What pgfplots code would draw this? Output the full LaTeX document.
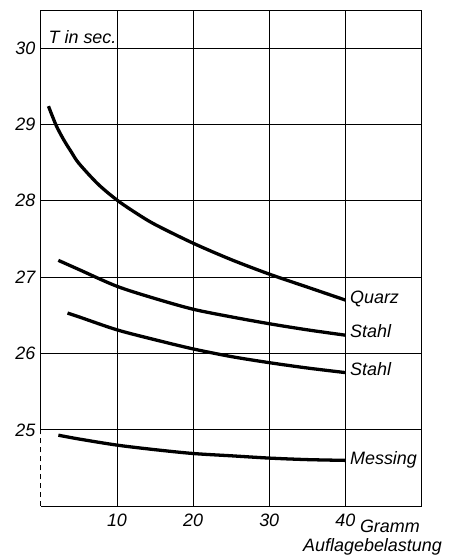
\documentclass[border=0pt]{standalone}
\usepackage{pgfplots}
\pgfplotsset{compat=1.18}
\usepackage{fontspec}
\setmainfont{Liberation Sans}
\begin{document}
\begin{tikzpicture}
\begin{axis}[
  scale only axis, width=382pt, height=498pt,
  xmin=0, xmax=50, ymin=24, ymax=30.5,
  axis line style={draw=none},
  xtick={10,20,30,40,50}, xticklabels={10,20,30,40,},
  ytick={25,26,27,28,29,30},
  major tick length=0pt,
  grid=major, major grid style={black, line width=0.7pt},
  /pgf/number format/assume math mode=true,
  tick label style={font=\fontsize{18}{21}\selectfont\itshape},
  xticklabel style={yshift=-4pt},
  yticklabel style={xshift=-2pt},
  clip=false,
]
\draw[black, line width=0.8pt] (axis cs:0,25) -- (axis cs:0,30.5) -- (axis cs:50,30.5) -- (axis cs:50,24) -- (axis cs:0,24);
\draw[black, line width=0.8pt, dash pattern=on 5pt off 4pt] (axis cs:0,24) -- (axis cs:0,25);
\addplot[black, line width=3.3pt, smooth] coordinates {(1,29.24)(2,28.99)(3,28.80)(4,28.64)(5,28.49)(7.5,28.22)(10,28.01)(12.5,27.84)(15,27.69)(20,27.445)(25,27.23)(30,27.04)(35,26.87)(40,26.70)};
\addplot[black, line width=3.3pt, smooth] coordinates {(2.3,27.22)(5,27.1)(10,26.88)(15,26.72)(20,26.58)(25,26.48)(30,26.39)(35,26.31)(40,26.24)};
\addplot[black, line width=3.3pt, smooth] coordinates {(3.5,26.53)(5,26.48)(10,26.31)(15,26.18)(20,26.06)(25,25.96)(30,25.88)(35,25.81)(40,25.75)};
\addplot[black, line width=3.3pt, smooth] coordinates {(2.3,24.93)(5,24.88)(10,24.8)(15,24.74)(20,24.69)(25,24.66)(30,24.63)(35,24.61)(40,24.6)};
\begin{scope}[every node/.style={font=\fontsize{18}{21}\selectfont\itshape, anchor=west, inner sep=0pt}]
\node at (axis cs:40.6,26.72) {Quarz};
\node at (axis cs:40.6,26.29) {Stahl};
\node at (axis cs:40.6,25.80) {Stahl};
\node at (axis cs:40.6,24.61) {Messing};
\node[anchor=south west] at (axis cs:1.0,30.05) {T in sec.};
\node[anchor=west] at (axis cs:41.9,23.74) {Gramm};
\node[anchor=east] at (axis cs:52.7,23.47) {Auflagebelastung};
\end{scope}
\end{axis}
\path (current axis.south west) ++(-41pt,-47pt) rectangle ++(453pt,555pt);
\end{tikzpicture}
\end{document}
